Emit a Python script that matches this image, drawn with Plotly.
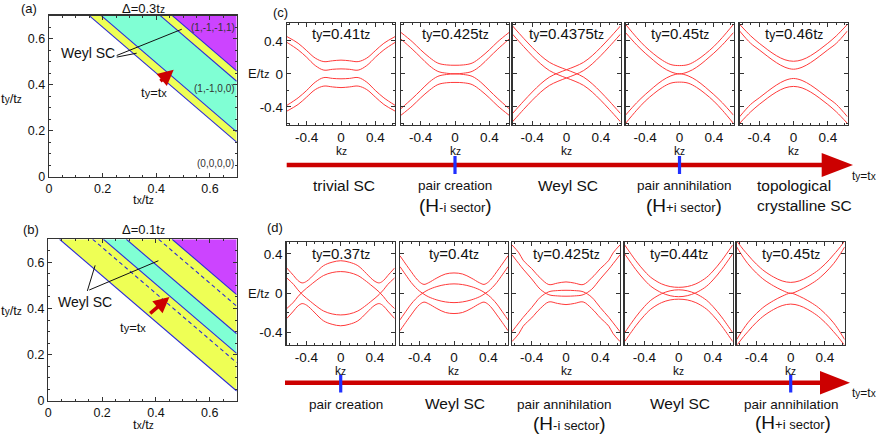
import plotly.graph_objects as go

W, H = 879, 436
FONT = "Liberation Sans, Arial, sans-serif"


def px(x):
    return x / W


def py(y):
    return 1 - y / H


# ---------------- data ----------------
# phase diagrams: boundaries are lines tx + ty = const
AXIS_MAX = 0.7
A_BANDS = [(0.85, 0.895, "yellow"), (0.895, 1.115, "cyan"), (1.115, 1.16, "yellow"), (1.16, 1.5, "purple")]
A_SOLID = [0.85, 0.895, 1.115, 1.16]
B_BANDS = [(0.742, 0.905, "yellow"), (0.905, 0.99, "cyan"), (0.99, 1.16, "yellow"), (1.16, 1.5, "purple")]
B_SOLID = [0.742, 0.905, 0.99, 1.16]
B_DASHED = [0.865, 1.11]
A_PATH = [0.41, 0.465]   # ty = tx path shown by the red arrow in (a)
B_PATH = [0.373, 0.45]   # ty = tx path shown by the red arrow in (b)

# band structures, kz grids
KC = [-0.63, -0.5, -0.4, -0.3, -0.2, -0.1, 0, 0.1, 0.2, 0.3, 0.4, 0.5, 0.63]
KD = [-0.63, -0.55, -0.5, -0.45, -0.4, -0.35, -0.3, -0.2, -0.1, 0, 0.1, 0.2, 0.3, 0.35, 0.4, 0.45, 0.5, 0.55, 0.63]

TY_C = ["0.41", "0.425", "0.4375", "0.45", "0.46"]
TY_D = ["0.37", "0.4", "0.425", "0.44", "0.45"]

c1_1 = [0.45, 0.37, 0.28, 0.19, 0.148, 0.158, 0.166, 0.158, 0.148, 0.19, 0.28, 0.37, 0.45]
c1_2 = [0.38, 0.29, 0.20, 0.10, 0.045, 0.055, 0.06, 0.055, 0.045, 0.10, 0.20, 0.29, 0.38]
c1_3 = [-0.38, -0.29, -0.20, -0.10, -0.045, -0.055, -0.06, -0.055, -0.045, -0.10, -0.20, -0.29, -0.38]
c1_4 = [-0.45, -0.37, -0.28, -0.19, -0.148, -0.158, -0.166, -0.158, -0.148, -0.19, -0.28, -0.37, -0.45]

c2_1 = [0.50, 0.39, 0.29, 0.20, 0.13, 0.108, 0.104, 0.108, 0.13, 0.20, 0.29, 0.39, 0.50]
c2_2 = [0.42, 0.30, 0.20, 0.10, 0.03, 0.008, 0.0, 0.008, 0.03, 0.10, 0.20, 0.30, 0.42]
c2_3 = [-0.42, -0.30, -0.20, -0.10, -0.03, -0.008, 0.0, -0.008, -0.03, -0.10, -0.20, -0.30, -0.42]
c2_4 = [-0.50, -0.39, -0.29, -0.20, -0.13, -0.108, -0.104, -0.108, -0.13, -0.20, -0.29, -0.39, -0.50]

c3_1 = [0.58, 0.43, 0.32, 0.22, 0.14, 0.09, 0.05, 0.01, -0.04, -0.12, -0.22, -0.33, -0.48]
c3_2 = [0.48, 0.33, 0.22, 0.12, 0.04, -0.01, -0.05, -0.09, -0.14, -0.22, -0.32, -0.43, -0.58]
c3_3 = [-0.48, -0.33, -0.22, -0.12, -0.04, 0.01, 0.05, 0.09, 0.14, 0.22, 0.32, 0.43, 0.58]
c3_4 = [-0.58, -0.43, -0.32, -0.22, -0.14, -0.09, -0.05, -0.01, 0.04, 0.12, 0.22, 0.33, 0.48]

c4_1 = [0.60, 0.44, 0.33, 0.24, 0.164, 0.112, 0.10, 0.112, 0.164, 0.24, 0.33, 0.44, 0.60]
c4_2 = [0.50, 0.35, 0.25, 0.16, 0.08, 0.024, 0.0, 0.024, 0.08, 0.16, 0.25, 0.35, 0.50]
c4_3 = [-0.50, -0.35, -0.25, -0.16, -0.08, -0.024, 0.0, -0.024, -0.08, -0.16, -0.25, -0.35, -0.50]
c4_4 = [-0.60, -0.44, -0.33, -0.24, -0.164, -0.112, -0.10, -0.112, -0.164, -0.24, -0.33, -0.44, -0.60]

c5_1 = [0.60, 0.46, 0.37, 0.29, 0.22, 0.17, 0.152, 0.17, 0.22, 0.29, 0.37, 0.46, 0.60]
c5_2 = [0.52, 0.37, 0.29, 0.21, 0.136, 0.08, 0.056, 0.08, 0.136, 0.21, 0.29, 0.37, 0.52]
c5_3 = [-0.52, -0.37, -0.29, -0.21, -0.136, -0.08, -0.056, -0.08, -0.136, -0.21, -0.29, -0.37, -0.52]
c5_4 = [-0.60, -0.46, -0.37, -0.29, -0.22, -0.17, -0.152, -0.17, -0.22, -0.29, -0.37, -0.46, -0.60]

d1_1 = [0.257, 0.18, 0.13, 0.105, 0.12, 0.156, 0.2, 0.28, 0.315, 0.33, 0.315, 0.28, 0.2, 0.156, 0.12, 0.105, 0.13, 0.18, 0.257]
d1_2 = [0.156, 0.09, 0.035, -0.012, -0.05, -0.085, -0.12, -0.18, -0.21, -0.22, -0.21, -0.18, -0.12, -0.085, -0.05, -0.012, 0.035, 0.09, 0.156]
d1_3 = [-0.156, -0.09, -0.035, 0.012, 0.05, 0.085, 0.12, 0.18, 0.21, 0.22, 0.21, 0.18, 0.12, 0.085, 0.05, 0.012, -0.035, -0.09, -0.156]
d1_4 = [-0.257, -0.18, -0.13, -0.105, -0.12, -0.156, -0.2, -0.28, -0.315, -0.33, -0.315, -0.28, -0.2, -0.156, -0.12, -0.105, -0.13, -0.18, -0.257]

d2_1 = [0.38, 0.28, 0.22, 0.16, 0.113, 0.09, 0.105, 0.155, 0.195, 0.206, 0.195, 0.155, 0.105, 0.09, 0.113, 0.16, 0.22, 0.28, 0.38]
d2_2 = [0.27, 0.17, 0.11, 0.06, 0.02, -0.01, -0.035, -0.068, -0.088, -0.095, -0.088, -0.068, -0.035, -0.01, 0.02, 0.06, 0.11, 0.17, 0.27]
d2_3 = [-0.27, -0.17, -0.11, -0.06, -0.02, 0.01, 0.035, 0.068, 0.088, 0.095, 0.088, 0.068, 0.035, 0.01, -0.02, -0.06, -0.11, -0.17, -0.27]
d2_4 = [-0.38, -0.28, -0.22, -0.16, -0.113, -0.09, -0.105, -0.155, -0.195, -0.206, -0.195, -0.155, -0.105, -0.09, -0.113, -0.16, -0.22, -0.28, -0.38]

d3_1 = [0.49, 0.41, 0.335, 0.29, 0.25, 0.2, 0.155, 0.088, 0.103, 0.115, 0.103, 0.088, 0.155, 0.2, 0.25, 0.29, 0.335, 0.41, 0.49]
d3_2 = [0.39, 0.30, 0.245, 0.195, 0.145, 0.09, 0.04, -0.015, -0.027, -0.03, -0.027, -0.015, 0.04, 0.09, 0.145, 0.195, 0.245, 0.30, 0.39]
d3_3 = [-0.39, -0.30, -0.245, -0.195, -0.145, -0.09, -0.04, 0.015, 0.027, 0.03, 0.027, 0.015, -0.04, -0.09, -0.145, -0.195, -0.245, -0.30, -0.39]
d3_4 = [-0.49, -0.41, -0.335, -0.29, -0.25, -0.2, -0.155, -0.088, -0.103, -0.115, -0.103, -0.088, -0.155, -0.2, -0.25, -0.29, -0.335, -0.41, -0.49]

d4_1 = [0.49, 0.39, 0.33, 0.275, 0.225, 0.18, 0.145, 0.095, 0.068, 0.06, 0.068, 0.095, 0.145, 0.18, 0.225, 0.275, 0.33, 0.39, 0.49]
d4_2 = [0.40, 0.30, 0.24, 0.185, 0.135, 0.09, 0.055, 0.005, -0.025, -0.035, -0.025, 0.005, 0.055, 0.09, 0.135, 0.185, 0.24, 0.30, 0.40]
d4_3 = [-0.40, -0.30, -0.24, -0.185, -0.135, -0.09, -0.055, -0.005, 0.025, 0.035, 0.025, -0.005, -0.055, -0.09, -0.135, -0.185, -0.24, -0.30, -0.40]
d4_4 = [-0.49, -0.39, -0.33, -0.275, -0.225, -0.18, -0.145, -0.095, -0.068, -0.06, -0.068, -0.095, -0.145, -0.18, -0.225, -0.275, -0.33, -0.39, -0.49]

d5_1 = [0.53, 0.44, 0.39, 0.34, 0.295, 0.255, 0.22, 0.165, 0.125, 0.11, 0.125, 0.165, 0.22, 0.255, 0.295, 0.34, 0.39, 0.44, 0.53]
d5_2 = [0.47, 0.36, 0.30, 0.25, 0.205, 0.165, 0.13, 0.075, 0.03, 0.0, 0.03, 0.075, 0.13, 0.165, 0.205, 0.25, 0.30, 0.36, 0.47]
d5_3 = [-0.47, -0.36, -0.30, -0.25, -0.205, -0.165, -0.13, -0.075, -0.03, 0.0, -0.03, -0.075, -0.13, -0.165, -0.205, -0.25, -0.30, -0.36, -0.47]
d5_4 = [-0.53, -0.44, -0.39, -0.34, -0.295, -0.255, -0.22, -0.165, -0.125, -0.11, -0.125, -0.165, -0.22, -0.255, -0.295, -0.34, -0.39, -0.44, -0.53]

C_BANDS = [[c1_1, c1_2, c1_3, c1_4], [c2_1, c2_2, c2_3, c2_4], [c3_1, c3_2, c3_3, c3_4],
           [c4_1, c4_2, c4_3, c4_4], [c5_1, c5_2, c5_3, c5_4]]
D_BANDS = [[d1_1, d1_2, d1_3, d1_4], [d2_1, d2_2, d2_3, d2_4], [d3_1, d3_2, d3_3, d3_4],
           [d4_1, d4_2, d4_3, d4_4], [d5_1, d5_2, d5_3, d5_4]]

# ---------------- styles ----------------
COLORS = {"yellow": "#eeff55", "cyan": "#80ffd4", "purple": "#cc44ff"}
BLUE = "#2a2ad8"
RED_LINE = "#ff3a3a"
DARK_RED = "#cc0000"
FRAME = "#333333"

C_LEFT = [287, 401, 512.5, 625.5, 739.5]
D_LEFT = [286.7, 400, 512, 624.7, 736.7]
BOX_W = 108
C_TOP, C_BOT = 23, 124.7
D_TOP, D_BOT = 242, 344.5
K_RANGE = [-0.63, 0.63]
EC_RANGE = [-0.615, 0.615]
ED_RANGE = [-0.52, 0.52]


def clip(poly, f):
    out = []
    n = len(poly)
    for i in range(n):
        P, Q = poly[i], poly[(i + 1) % n]
        fp, fq = f(P), f(Q)
        if fp >= 0:
            out.append(P)
        if (fp >= 0) != (fq >= 0):
            t = fp / (fp - fq)
            out.append((P[0] + t * (Q[0] - P[0]), P[1] + t * (Q[1] - P[1])))
    return out


def strip(lo, hi):
    sq = [(0, 0), (AXIS_MAX, 0), (AXIS_MAX, AXIS_MAX), (0, AXIS_MAX)]
    p = clip(sq, lambda q: q[0] + q[1] - lo)
    p = clip(p, lambda q: hi - q[0] - q[1])
    return p


def seg(c):
    return [c - AXIS_MAX, AXIS_MAX], [AXIS_MAX, c - AXIS_MAX]


fig = go.Figure()


def sub(s, size=10):
    return f"<span style='font-size:{size}px'>{s}</span>"


# ---- phase diagrams ----
def phase(xa, ya, bands, solid, dashed):
    for lo, hi, col in bands:
        p = strip(lo, hi)
        fig.add_trace(go.Scatter(x=[q[0] for q in p] + [p[0][0]], y=[q[1] for q in p] + [p[0][1]],
                                 mode="lines", fill="toself", fillcolor=COLORS[col],
                                 line=dict(width=0), xaxis=xa, yaxis=ya, showlegend=False,
                                 hoverinfo="skip"))
    for c in solid:
        xs, ys = seg(c)
        fig.add_trace(go.Scatter(x=xs, y=ys, mode="lines", line=dict(color=BLUE, width=1.1),
                                 xaxis=xa, yaxis=ya, showlegend=False, hoverinfo="skip"))
    for c in dashed:
        xs, ys = seg(c)
        fig.add_trace(go.Scatter(x=xs, y=ys, mode="lines", line=dict(color=BLUE, width=1.1, dash="4px,3px"),
                                 xaxis=xa, yaxis=ya, showlegend=False, hoverinfo="skip"))


phase("x", "y", A_BANDS, A_SOLID, [])
phase("x2", "y2", B_BANDS, B_SOLID, B_DASHED)

# ---- band panels ----
for i in range(5):
    for band in C_BANDS[i]:
        fig.add_trace(go.Scatter(x=KC, y=band, mode="lines",
                                 line=dict(color=RED_LINE, width=1, shape="spline", smoothing=1.0),
                                 xaxis=f"x{3 + i}", yaxis=f"y{3 + i}", showlegend=False, hoverinfo="skip"))
    for band in D_BANDS[i]:
        fig.add_trace(go.Scatter(x=KD, y=band, mode="lines",
                                 line=dict(color=RED_LINE, width=1, shape="spline", smoothing=1.0),
                                 xaxis=f"x{8 + i}", yaxis=f"y{8 + i}", showlegend=False, hoverinfo="skip"))

layout = dict(template="none", width=W, height=H, margin=dict(l=0, r=0, t=0, b=0, pad=0),
              paper_bgcolor="white", plot_bgcolor="white", font=dict(family=FONT, color="#111"),
              showlegend=False, autosize=False)


def frame_axis(domain, anchor, rng, tickvals, ticktext, show, minor_dtick, fsize):
    return dict(domain=domain, anchor=anchor, range=rng, showgrid=False, zeroline=False,
                automargin=False,
                showline=True, linecolor=FRAME, linewidth=1.4, mirror="allticks",
                ticks="inside", ticklen=4, tickwidth=1, tickcolor=FRAME,
                tickvals=tickvals, ticktext=ticktext, showticklabels=show,
                tickfont=dict(family=FONT, size=fsize, color="#111"),
                minor=dict(ticks="inside", ticklen=2, dtick=minor_dtick, tickcolor=FRAME, showgrid=False),
                fixedrange=True)


PD_TICKS = [0, 0.2, 0.4, 0.6]
PD_TEXT = ["0", "0.2", "0.4", "0.6"]
layout["xaxis"] = frame_axis([px(49), px(236.7)], "y", [0, AXIS_MAX], PD_TICKS, PD_TEXT, True, 0.05, 12.5)
layout["yaxis"] = frame_axis([py(176.7), py(15.7)], "x", [0, AXIS_MAX], PD_TICKS, PD_TEXT, True, 0.05, 12.5)
layout["xaxis2"] = frame_axis([px(48.3), px(236.7)], "y2", [0, AXIS_MAX], PD_TICKS, PD_TEXT, True, 0.05, 12.5)
layout["yaxis2"] = frame_axis([py(400.7), py(239.3)], "x2", [0, AXIS_MAX], PD_TICKS, PD_TEXT, True, 0.05, 12.5)

KT = [-0.4, 0, 0.4]
KTXT = ["-0.4", "0", "0.4"]
for i in range(5):
    n = 3 + i
    layout[f"xaxis{n}"] = frame_axis([px(C_LEFT[i]), px(C_LEFT[i] + BOX_W)], f"y{n}", K_RANGE, KT, KTXT, True, 0.1, 13.5)
    layout[f"yaxis{n}"] = frame_axis([py(C_BOT), py(C_TOP)], f"x{n}", EC_RANGE, KT, KTXT, i == 0, 0.2, 13.5)
    n = 8 + i
    layout[f"xaxis{n}"] = frame_axis([px(D_LEFT[i]), px(D_LEFT[i] + BOX_W)], f"y{n}", K_RANGE, KT, KTXT, True, 0.1, 13.5)
    layout[f"yaxis{n}"] = frame_axis([py(D_BOT), py(D_TOP)], f"x{n}", ED_RANGE, KT, KTXT, i == 0, 0.2, 13.5)

ann = []


def text(x, y, s, size=13, xanchor="center", color="#111"):
    ann.append(dict(x=px(x), y=py(y), xref="paper", yref="paper", text=s, showarrow=False,
                    font=dict(family=FONT, size=size, color=color), xanchor=xanchor, yanchor="middle"))


# panel labels and titles
text(29, 8, "(a)", 13)
text(143.3, 8, "Δ=0.3t" + sub("z"), 13)
text(31, 230, "(b)", 13)
text(143.3, 230, "Δ=0.1t" + sub("z"), 13)
text(280, 13, "(c)", 13)
text(275, 227, "(d)", 13)

for (ytit, xtit) in [(98, 199), (310, 424)]:
    text(11, ytit, "t" + sub("y") + "/t" + sub("z"), 13)
    text(143, xtit, "t" + sub("x") + "/t" + sub("z"), 13)

# phase labels
text(213, 27, "(1,-1,-1,1)", 10, color="#333")
text(214, 88, "(1,-1,0,0)", 10, color="#333")
text(215, 163, "(0,0,0,0)", 10, color="#333")
text(87.5, 53.5, "Weyl SC", 14)
text(154, 92, "t" + sub("y", 11) + "=t" + sub("x", 11), 13)
text(85, 302, "Weyl SC", 14)
text(132.5, 327, "t" + sub("y", 11) + "=t" + sub("x", 11), 13)

# band panel titles and axis labels
for i in range(5):
    cx = C_LEFT[i] + BOX_W / 2
    text(cx, 34, "t" + sub("y", 12) + "=" + TY_C[i] + "t" + sub("z", 12), 15)
    text(cx, 151, "k" + sub("z", 10), 12)
    dx = D_LEFT[i] + BOX_W / 2
    text(dx, 253, "t" + sub("y", 12) + "=" + TY_D[i] + "t" + sub("z", 12), 15)
    text(dx, 370.5, "k" + sub("z", 10), 12)
text(271, 74, "E/t" + sub("z", 11), 13, xanchor="right")
text(271, 293, "E/t" + sub("z", 11), 13, xanchor="right")

# arrow labels (c)
text(344, 185, "trivial SC", 15.5)
text(455, 185.5, "pair creation", 13.5)
text(455, 205.5, "<span style='font-size:19px'>(H</span>-i sector<span style='font-size:19px'>)</span>", 13)
text(568, 185, "Weyl SC", 15.5)
text(684, 185.5, "pair annihilation", 13.5)
text(684, 205.5, "<span style='font-size:19px'>(H</span>+i sector<span style='font-size:19px'>)</span>", 13)
text(755, 185, "topological", 15.5, xanchor="left")
text(755, 205.5, "crystalline SC", 15.5, xanchor="left")
text(864, 176, "t" + sub("y", 10) + "=t" + sub("x", 10), 12)
# arrow labels (d)
text(345.5, 404, "pair creation", 13.5)
text(455, 403, "Weyl SC", 15.5)
text(564, 404, "pair annihilation", 13.5)
text(569, 423, "<span style='font-size:19px'>(H</span>-i sector<span style='font-size:19px'>)</span>", 13)
text(680, 403, "Weyl SC", 15.5)
text(791, 404, "pair annihilation", 13.5)
text(793, 422, "<span style='font-size:19px'>(H</span>+i sector<span style='font-size:19px'>)</span>", 13)
text(864, 393, "t" + sub("y", 10) + "=t" + sub("x", 10), 12)

# red arrows along ty = tx in (a) and (b)
for (xr, yr, path) in [("x", "y", A_PATH), ("x2", "y2", B_PATH)]:
    ann.append(dict(x=path[1], y=path[1], ax=path[0], ay=path[0], xref=xr, yref=yr, axref=xr, ayref=yr,
                    text="", showarrow=True, arrowhead=2, arrowsize=0.9, arrowwidth=3.5,
                    arrowcolor=DARK_RED))

layout["annotations"] = ann

shapes = []
# leader lines for "Weyl SC"
for (xr, yr, x0, y0, x1, y1) in [("x", "y", 0.2525, 0.527, 0.495, 0.641), ("x", "y", 0.2525, 0.520, 0.327, 0.537),
                                 ("x2", "y2", 0.145, 0.476, 0.174, 0.587), ("x2", "y2", 0.152, 0.480, 0.409, 0.607)]:
    shapes.append(dict(type="line", xref=xr, yref=yr, x0=x0, y0=y0, x1=x1, y1=y1,
                       line=dict(color="#111", width=1)))

# big arrows in (c) and (d)
for (yc, x0, xh, xt, hh) in [(165, 286.7, 821.7, 853, 12), (382.7, 285, 820, 850, 11.7)]:
    shapes.append(dict(type="line", xref="paper", yref="paper", x0=px(x0), y0=py(yc), x1=px(xh + 2), y1=py(yc),
                       line=dict(color=DARK_RED, width=4.5)))
    shapes.append(dict(type="path", xref="paper", yref="paper",
                       path=f"M {px(xh)},{py(yc - hh)} L {px(xt)},{py(yc)} L {px(xh)},{py(yc + hh)} Z",
                       fillcolor=DARK_RED, line=dict(width=0)))

# blue transition marks: (c) at panels 2 and 4, (d) at panels 1 and 5
for (cx, yc) in [(C_LEFT[1] + BOX_W / 2, 165), (C_LEFT[3] + BOX_W / 2, 165),
                 (D_LEFT[0] + BOX_W / 2, 383.5), (D_LEFT[4] + BOX_W / 2, 383.5)]:
    shapes.append(dict(type="line", xref="paper", yref="paper", x0=px(cx), x1=px(cx), y0=py(yc - 9), y1=py(yc + 9),
                       line=dict(color="#2030ff", width=3.2)))

layout["shapes"] = shapes
fig.update_layout(**layout)
fig.write_html(
    "out.html",
    config={"displayModeBar": False, "staticPlot": True},
    post_script="document.body.style.margin='0px';document.body.style.padding='0px';"
                "document.body.style.overflow='hidden';",
)
